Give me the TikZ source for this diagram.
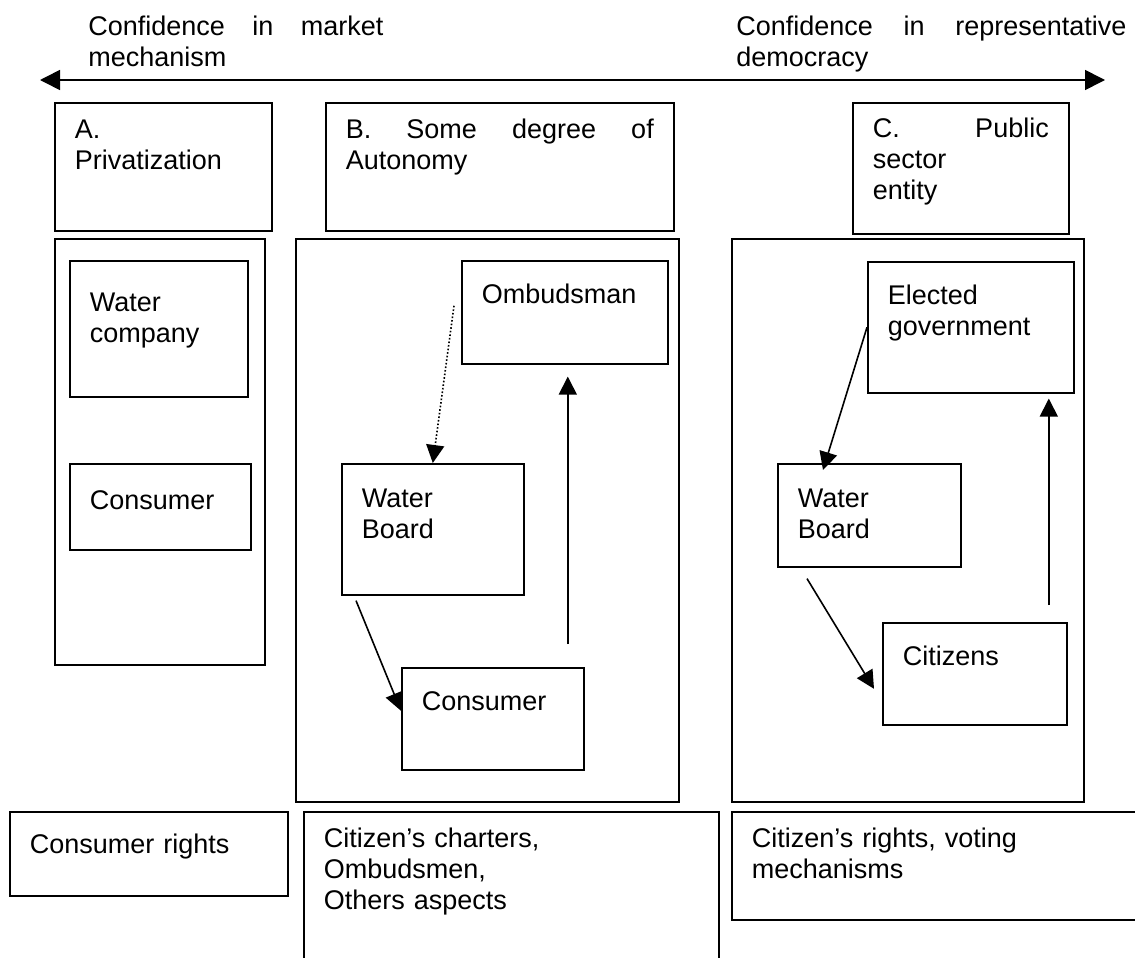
\documentclass[tikz,border=0pt]{standalone}
\usepackage{fontspec}
\setmainfont{Liberation Sans}
\usetikzlibrary{arrows.meta}
\hyphenpenalty=10000
\exhyphenpenalty=10000

\begin{document}
\begin{tikzpicture}[
        x=0.5pt, y=-0.5pt,
        every node/.style={font=\fontsize{13.5}{15.5}\selectfont},
        lbl/.style={anchor=north west, inner sep=0pt, align=justify, text height=10pt},
        box/.style={draw, line width=0.8pt, anchor=north west, align=left, inner xsep=10pt, inner ysep=0pt},
        panel/.style={draw, line width=0.8pt, anchor=north west, inner sep=0pt},
        arr/.style={-{Triangle[length=9pt,width=9pt]}, line width=0.8pt}
    ]

        \useasboundingbox (0,0) rectangle (1135,958);
        \clip (0,0) rectangle (1135,958);

        \node[lbl, text width=147.5pt] (mkt) at (88,15) {Confidence in market mechanism};
        \node[lbl, text width=195pt] (dem) at (736,15) {Confidence in representative democracy};
        \coordinate (mktend) at (40,80);
        \coordinate (demend) at (1105,80);
        \draw[{Triangle[length=10pt,width=10pt]}-{Triangle[length=10pt,width=10pt]}, line width=0.8pt] (mktend) -- (demend);

        \node[box, text width=88.5pt, text height=18pt, text depth=46pt] (hdA) at (54,102) {A.\\Privatization};
        \node[box, align=justify, text width=154pt, text height=18pt, text depth=46pt] (hdB) at (325,102) {B. Some degree of Autonomy};
        \node[box, align=justify, text width=88pt, text height=17.5pt, text depth=48pt] (hdC) at (852,102) {C. Public sector\\entity};

        \node[panel, minimum width=105pt, minimum height=213pt] (panA) at (54,238) {};
        \node[panel, minimum width=191.5pt, minimum height=281.5pt] (panB) at (295,238) {};
        \node[panel, minimum width=176pt, minimum height=281.5pt] (panC) at (731,238) {};

        \node[box, text width=69pt, text height=25.5pt, text depth=42.5pt] (wcA) at (69,260) {Water\\company};
        \node[box, text width=70.5pt, text height=23pt, text depth=20pt] (conA) at (69,463) {Consumer};

        \node[box, text width=83pt, text height=21.5pt, text depth=30pt] (omB) at (461,260) {Ombudsman};
        \node[box, text width=71pt, text height=22pt, text depth=43.5pt] (wbB) at (341,463) {Water\\Board};
        \node[box, text width=71pt, text height=21.5pt, text depth=29.5pt] (conB) at (401,667) {Consumer};

        \node[box, text width=83pt, text height=21.5pt, text depth=44pt] (govC) at (867,261) {Elected\\government};
        \node[box, text width=71.5pt, text height=22pt, text depth=29.5pt] (wbC) at (777,463) {Water\\Board};
        \node[box, text width=72pt, text height=21.5pt, text depth=29.5pt] (citC) at (882,622) {Citizens};

        \draw[arr, densely dotted] ([xshift=-3.5pt,yshift=3.25pt]omB.west) -- (wbB.north);
        \draw[arr] ([xshift=7.5pt,yshift=-2.5pt]wbB.south west) -- ([yshift=4pt]conB.west);
        \draw[arr] ([xshift=37.5pt,yshift=11.5pt]conB.north) -- ([xshift=1.5pt,yshift=-6pt]omB.south);

        \draw[arr] (govC.west) -- ([xshift=23pt,yshift=-3.5pt]wbC.north west);
        \draw[arr] ([xshift=15pt,yshift=-5.5pt]wbC.south west) -- ([xshift=-4pt,yshift=-7.5pt]citC.west);
        \draw[arr] ([xshift=37pt,yshift=8.5pt]citC.north) -- ([xshift=39pt,yshift=-2.5pt]govC.south);

        \node[box, text width=119pt, text height=21pt, text depth=21pt] (btA) at (9,811) {Consumer rights};
        \node[box, text width=187.5pt, text height=18pt, text depth=77pt] (btB) at (303,811) {Citizen’s charters,\\Ombudsmen,\\Others aspects};
        \node[box, text width=195pt, text height=18pt, text depth=36pt] (btC) at (731,811) {Citizen’s rights, voting\\mechanisms};

    \end{tikzpicture}
\end{document}
